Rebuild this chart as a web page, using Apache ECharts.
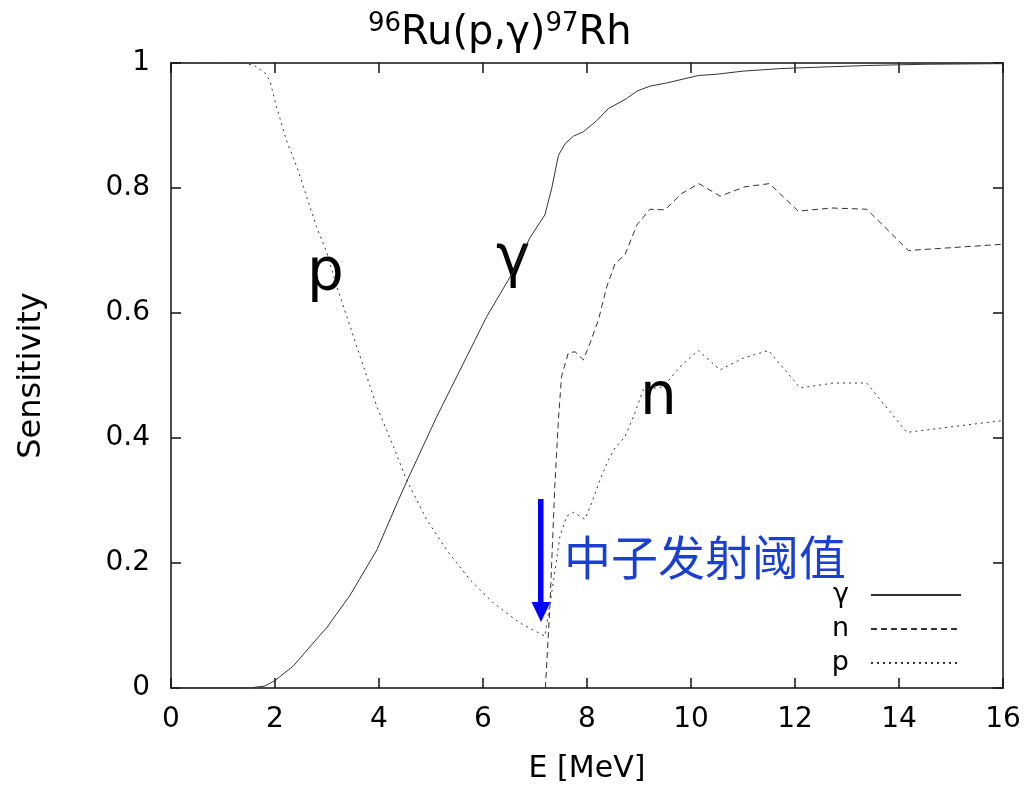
<!DOCTYPE html>
<html>
<head>
<meta charset="utf-8">
<script src="https://cdn.jsdelivr.net/npm/echarts@6/dist/echarts.min.js"></script>
<style>
html,body{margin:0;padding:0;background:#fff;}
#chart{width:1030px;height:792px;}
</style>
</head>
<body>
<div id="chart"></div>
<script>
// ---- data ----
const xTicks = [0, 2, 4, 6, 8, 10, 12, 14, 16];
const yTicks = [0, 0.2, 0.4, 0.6, 0.8, 1];

const gammaE = [0, 1.5, 1.8, 2.0, 2.35, 2.87, 3.0, 3.44, 3.96, 4.37, 4.53, 5.11, 5.56, 6.07, 6.58, 6.9, 7.19, 7.32, 7.45, 7.58, 7.74, 7.93, 8.19, 8.41, 8.76, 8.96, 9.21, 9.53, 10.14, 10.49, 11.0, 11.71, 12.0, 13.38, 14.5, 16];
const gammaS = [0, 0, 0.003, 0.012, 0.035, 0.085, 0.097, 0.148, 0.221, 0.30, 0.33, 0.434, 0.509, 0.594, 0.666, 0.72, 0.757, 0.799, 0.852, 0.871, 0.883, 0.890, 0.908, 0.927, 0.943, 0.955, 0.963, 0.968, 0.980, 0.982, 0.987, 0.991, 0.992, 0.996, 0.998, 0.999];

const nE = [7.2, 7.29, 7.38, 7.45, 7.51, 7.64, 7.77, 7.93, 8.06, 8.22, 8.38, 8.54, 8.73, 8.96, 9.21, 9.50, 9.82, 10.15, 10.56, 11.04, 11.51, 12.06, 12.71, 13.38, 14.18, 16];
const nS = [0, 0.136, 0.322, 0.429, 0.498, 0.536, 0.538, 0.525, 0.552, 0.589, 0.642, 0.679, 0.693, 0.741, 0.766, 0.765, 0.791, 0.807, 0.787, 0.802, 0.807, 0.763, 0.768, 0.766, 0.700, 0.710];

const pE = [0, 1.4, 1.6, 1.8, 1.9, 2.03, 2.22, 2.42, 2.61, 2.80, 2.99, 3.19, 3.51, 3.96, 4.28, 4.53, 4.92, 5.30, 5.75, 6.20, 6.71, 7.19, 7.35, 7.48, 7.61, 7.74, 7.96, 8.09, 8.25, 8.41, 8.54, 8.73, 8.92, 9.08, 9.47, 9.79, 10.14, 10.56, 11.01, 11.49, 12.10, 12.74, 13.38, 14.15, 16];
const pS = [1, 1, 0.996, 0.985, 0.972, 0.930, 0.876, 0.834, 0.786, 0.738, 0.698, 0.642, 0.562, 0.450, 0.386, 0.333, 0.269, 0.221, 0.173, 0.136, 0.104, 0.083, 0.168, 0.243, 0.275, 0.281, 0.270, 0.296, 0.333, 0.365, 0.384, 0.402, 0.44, 0.477, 0.482, 0.514, 0.540, 0.509, 0.528, 0.540, 0.480, 0.488, 0.488, 0.409, 0.428];

const seriesNames = ['γ', 'n', 'p'];
const titleParts = ['96', 'Ru(p,γ)', '97', 'Rh'];
const thresholdLabel = '中子发射阈值';

function pairs(xs, ys) { return xs.map((x, i) => [x, ys[i]]); }

const chart = echarts.init(document.getElementById('chart'));
const lineColor = '#333';
const axisColor = '#111';
const sans = '"DejaVu Sans", sans-serif';

function axisCommon() {
  return {
    min: 0,
    axisLine: { show: true, onZero: false, lineStyle: { color: axisColor, width: 1.5 } },
    axisTick: { show: true, inside: true, length: 10, lineStyle: { color: axisColor, width: 1.5 } },
    splitLine: { show: false },
    axisLabel: { show: false }
  };
}

const option = {
  backgroundColor: '#fff',
  animation: false,
  title: {
    text: `{sup|${titleParts[0]}}{b|${titleParts[1]}}{sup|${titleParts[2]}}{b|${titleParts[3]}}`,
    left: 363,
    top: 6,
    textStyle: {
      fontWeight: 'normal',
      rich: {
        b: { fontSize: 40, fontFamily: sans, fontWeight: 'normal', color: '#000', lineHeight: 46 },
        sup: { fontSize: 26, fontFamily: sans, fontWeight: 'normal', color: '#000', verticalAlign: 'top', lineHeight: 46, padding: [0, 0, 16, 0] }
      }
    }
  },
  grid: { left: 171, right: 27, top: 63, bottom: 104 },
  xAxis: [
    Object.assign(axisCommon(), {
      type: 'value', max: 16, interval: 2, position: 'bottom',
      name: 'E [MeV]', nameLocation: 'middle', nameGap: 66,
      nameTextStyle: { fontSize: 30, fontFamily: sans, color: '#000' },
      axisLabel: { show: true, color: '#000', fontSize: 28, fontFamily: sans, margin: 18,
        formatter: v => xTicks.includes(v) ? String(v) : '' }
    }),
    Object.assign(axisCommon(), { type: 'value', max: 16, interval: 2, position: 'top' })
  ],
  yAxis: [
    Object.assign(axisCommon(), {
      type: 'value', max: 1, interval: 0.2, position: 'left',
      name: 'Sensitivity', nameLocation: 'middle', nameGap: 123, nameRotate: 90,
      nameTextStyle: { fontSize: 32, fontFamily: sans, color: '#000' },
      axisLabel: { show: true, color: '#000', fontSize: 28, fontFamily: sans, margin: 21,
        formatter: v => { const t = yTicks.find(y => Math.abs(y - v) < 1e-9); return t === undefined ? '' : String(t); } }
    }),
    Object.assign(axisCommon(), { type: 'value', max: 1, interval: 0.2, position: 'right' })
  ],
  legend: {
    data: seriesNames,
    orient: 'vertical',
    align: 'right',
    right: 63,
    top: 576,
    itemWidth: 90,
    itemHeight: 12,
    itemGap: 6,
    itemStyle: { opacity: 0 },
    textStyle: { fontSize: 27, fontFamily: sans, color: '#000', padding: [0, 17, 0, 0], lineHeight: 28 }
  },
  series: [
    { name: seriesNames[0], type: 'line', showSymbol: false, symbol: 'none', data: pairs(gammaE, gammaS),
      lineStyle: { color: lineColor, width: 1, type: 'solid' }, itemStyle: { color: lineColor } },
    { name: seriesNames[1], type: 'line', showSymbol: false, symbol: 'none', data: pairs(nE, nS),
      lineStyle: { color: lineColor, width: 1, type: [6, 4] }, itemStyle: { color: lineColor } },
    { name: seriesNames[2], type: 'line', showSymbol: false, symbol: 'none', data: pairs(pE, pS),
      lineStyle: { color: lineColor, width: 1, type: [2, 4] }, itemStyle: { color: lineColor } }
  ],
  graphic: [
    { type: 'text', left: 307, top: 246, style: { text: 'p', fontSize: 58, fontFamily: sans, fill: '#000' } },
    { type: 'text', left: 496, top: 232, style: { text: 'γ', fontSize: 58, fontFamily: sans, fill: '#000' } },
    { type: 'text', left: 640, top: 370, style: { text: 'n', fontSize: 58, fontFamily: sans, fill: '#000' } },
    { type: 'rect', shape: { x: 538, y: 499, width: 5.5, height: 106 }, style: { fill: '#0000ff' } },
    { type: 'polygon', shape: { points: [[531.5, 602], [550.5, 602], [541, 622]] }, style: { fill: '#0000ff' } },
    { type: 'text', left: 564, top: 534, style: { text: thresholdLabel, fontSize: 47, fontFamily: '"Noto Sans CJK SC", sans-serif', fill: '#1a3fd2' } }
  ]
};
chart.setOption(option);
</script>
</body>
</html>
